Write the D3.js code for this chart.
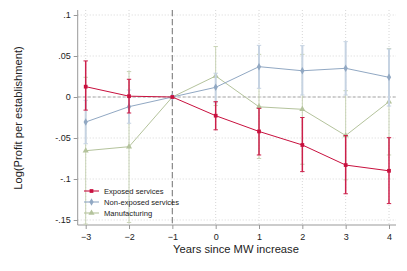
<!DOCTYPE html>
<html lang="en">
<head>
<meta charset="utf-8">
<script src="https://cdn.jsdelivr.net/npm/d3@7"></script>
<style>
  body { margin: 0; background: #fff; }
  text { font-family: "Liberation Sans", Arial, sans-serif; fill: #222; }
</style>
</head>
<body>
<script>
// event-time periods and tick values
const years = [-3, -2, -1, 0, 1, 2, 3, 4];
const yTicks = [0.1, 0.05, 0, -0.05, -0.1, -0.15];

// Exposed services
const exposedEst = [0.0126, 0.001, 0, -0.0228, -0.042, -0.0585, -0.083, -0.090];
const exposedLo  = [-0.016, -0.0195, null, -0.040, -0.0707, -0.091, -0.118, -0.130];
const exposedHi  = [0.044, 0.0216, null, -0.0057, -0.0138, -0.025, -0.047, -0.0496];

// Non-exposed services
const nonExpEst = [-0.0305, -0.0118, 0, 0.0118, 0.037, 0.032, 0.035, 0.024];
const nonExpLo  = [-0.057, -0.032, null, -0.007, 0.0106, 0.0024, 0.0024, -0.011];
const nonExpHi  = [-0.004, 0.0085, null, 0.029, 0.063, 0.0626, 0.0675, 0.0585];

// Manufacturing
const manufEst = [-0.0655, -0.0606, 0, 0.0256, -0.012, -0.015, -0.047, -0.0057];
const manufLo  = [-0.155, -0.153, null, -0.0103, -0.075, -0.082, -0.101, -0.0707];
const manufHi  = [0.024, 0.031, null, 0.0615, 0.052, 0.052, 0.0077, 0.059];

const w = 407, h = 271;
const svg = d3.select("body").append("svg").attr("width", w).attr("height", h);

const x = d3.scaleLinear().domain([-3, 4]).range([85.7, 389]);
const y = d3.scaleLinear().domain([0.1, -0.15]).range([15, 220]);
const pLeft = 77.7, pRight = 396, pTop = 10, pBottom = 225;

// grid
svg.append("g").selectAll("line").data(yTicks).join("line")
  .attr("x1", pLeft).attr("x2", pRight)
  .attr("y1", d => y(d)).attr("y2", d => y(d))
  .attr("stroke", "#d6d6d6").attr("stroke-width", 1).attr("stroke-dasharray", "1,2");
svg.append("g").selectAll("line").data(years).join("line")
  .attr("x1", d => x(d)).attr("x2", d => x(d))
  .attr("y1", pTop).attr("y2", pBottom)
  .attr("stroke", "#d6d6d6").attr("stroke-width", 1).attr("stroke-dasharray", "1,2");

// reference lines
svg.append("line").attr("x1", pLeft).attr("x2", pRight).attr("y1", y(0)).attr("y2", y(0))
  .attr("stroke", "#a8a8a8").attr("stroke-width", 1.2).attr("stroke-dasharray", "3,2");
svg.append("line").attr("x1", x(-1)).attr("x2", x(-1)).attr("y1", pTop).attr("y2", pBottom)
  .attr("stroke", "#8a8a8a").attr("stroke-width", 1.2).attr("stroke-dasharray", "6,3");

// axes
const yAxis = svg.append("g").attr("transform", `translate(${pLeft},0)`)
  .call(d3.axisLeft(y).tickValues(yTicks).tickSize(4)
    .tickFormat(d => d === 0 ? "0" : String(+d.toFixed(2)).replace("0.", ".")));
yAxis.select(".domain").attr("d", `M0,${pTop}V${pBottom}`);
const xAxis = svg.append("g").attr("transform", `translate(0,${pBottom})`)
  .call(d3.axisBottom(x).tickValues(years).tickSize(4).tickFormat(d3.format("d")));
xAxis.select(".domain").attr("d", `M${pLeft},0H${pRight}`);
svg.selectAll(".domain, .tick line").attr("stroke", "#999");
svg.selectAll(".tick text").attr("font-size", 9).attr("font-family", "Liberation Sans, Arial, sans-serif").attr("fill", "#222");
xAxis.selectAll(".tick text").attr("dy", "0.85em");

svg.append("text").attr("x", 236).attr("y", 253).attr("text-anchor", "middle")
  .attr("font-size", 11.2).text("Years since MW increase");
svg.append("text").attr("transform", `translate(22,118) rotate(-90)`).attr("text-anchor", "middle")
  .attr("font-size", 11.2).text("Log(Profit per establishment)");

const series = [
  { name: "Manufacturing", est: manufEst, lo: manufLo, hi: manufHi, color: "#b4c39c", ci: "#c8d3b5", ciw: 1, shape: d3.symbolTriangle, size: 16 },
  { name: "Non-exposed services", est: nonExpEst, lo: nonExpLo, hi: nonExpHi, color: "#91a8c3", ci: "#c6d3e2", ciw: 2, shape: d3.symbolDiamond, size: 16 },
  { name: "Exposed services", est: exposedEst, lo: exposedLo, hi: exposedHi, color: "#c8103e", ci: "#cc1f4a", ciw: 1.5, shape: d3.symbolSquare, size: 14 }
];

const line = d3.line().x((d, i) => x(years[i])).y(d => y(d));

series.forEach(s => {
  const g = svg.append("g");
  const ci = years.map((yr, i) => ({ yr, lo: s.lo[i], hi: s.hi[i] })).filter(d => d.lo !== null);
  g.selectAll("line.ci").data(ci).join("line")
    .attr("x1", d => x(d.yr)).attr("x2", d => x(d.yr))
    .attr("y1", d => y(Math.max(d.lo, -0.156))).attr("y2", d => y(d.hi))
    .attr("stroke", s.ci).attr("stroke-width", s.ciw);
  ["lo", "hi"].forEach(k => {
    g.selectAll("line.cap" + k).data(ci.filter(d => d[k] > -0.156)).join("line")
      .attr("x1", d => x(d.yr) - 2.2).attr("x2", d => x(d.yr) + 2.2)
      .attr("y1", d => y(d[k])).attr("y2", d => y(d[k]))
      .attr("stroke", s.ci).attr("stroke-width", 1);
  });
  g.append("path").datum(s.est).attr("d", line)
    .attr("fill", "none").attr("stroke", s.color).attr("stroke-width", 1);
  g.selectAll("path.pt").data(s.est).join("path")
    .attr("transform", (d, i) => `translate(${x(years[i])},${y(d)})`)
    .attr("d", d3.symbol(s.shape, s.size)).attr("fill", s.color);
});

// legend
const legend = svg.append("g").attr("transform", "translate(84,191)");
series.slice().reverse().forEach((s, i) => {
  const row = legend.append("g").attr("transform", `translate(0,${i * 11})`);
  row.append("line").attr("x1", 0).attr("x2", 15).attr("stroke", s.color).attr("stroke-width", 1.1);
  row.append("path").attr("transform", "translate(7.5,0)").attr("d", d3.symbol(s.shape, s.size)).attr("fill", s.color);
  row.append("text").attr("x", 20).attr("y", 2.6).attr("font-size", 7.6).text(s.name);
});
</script>
</body>
</html>
